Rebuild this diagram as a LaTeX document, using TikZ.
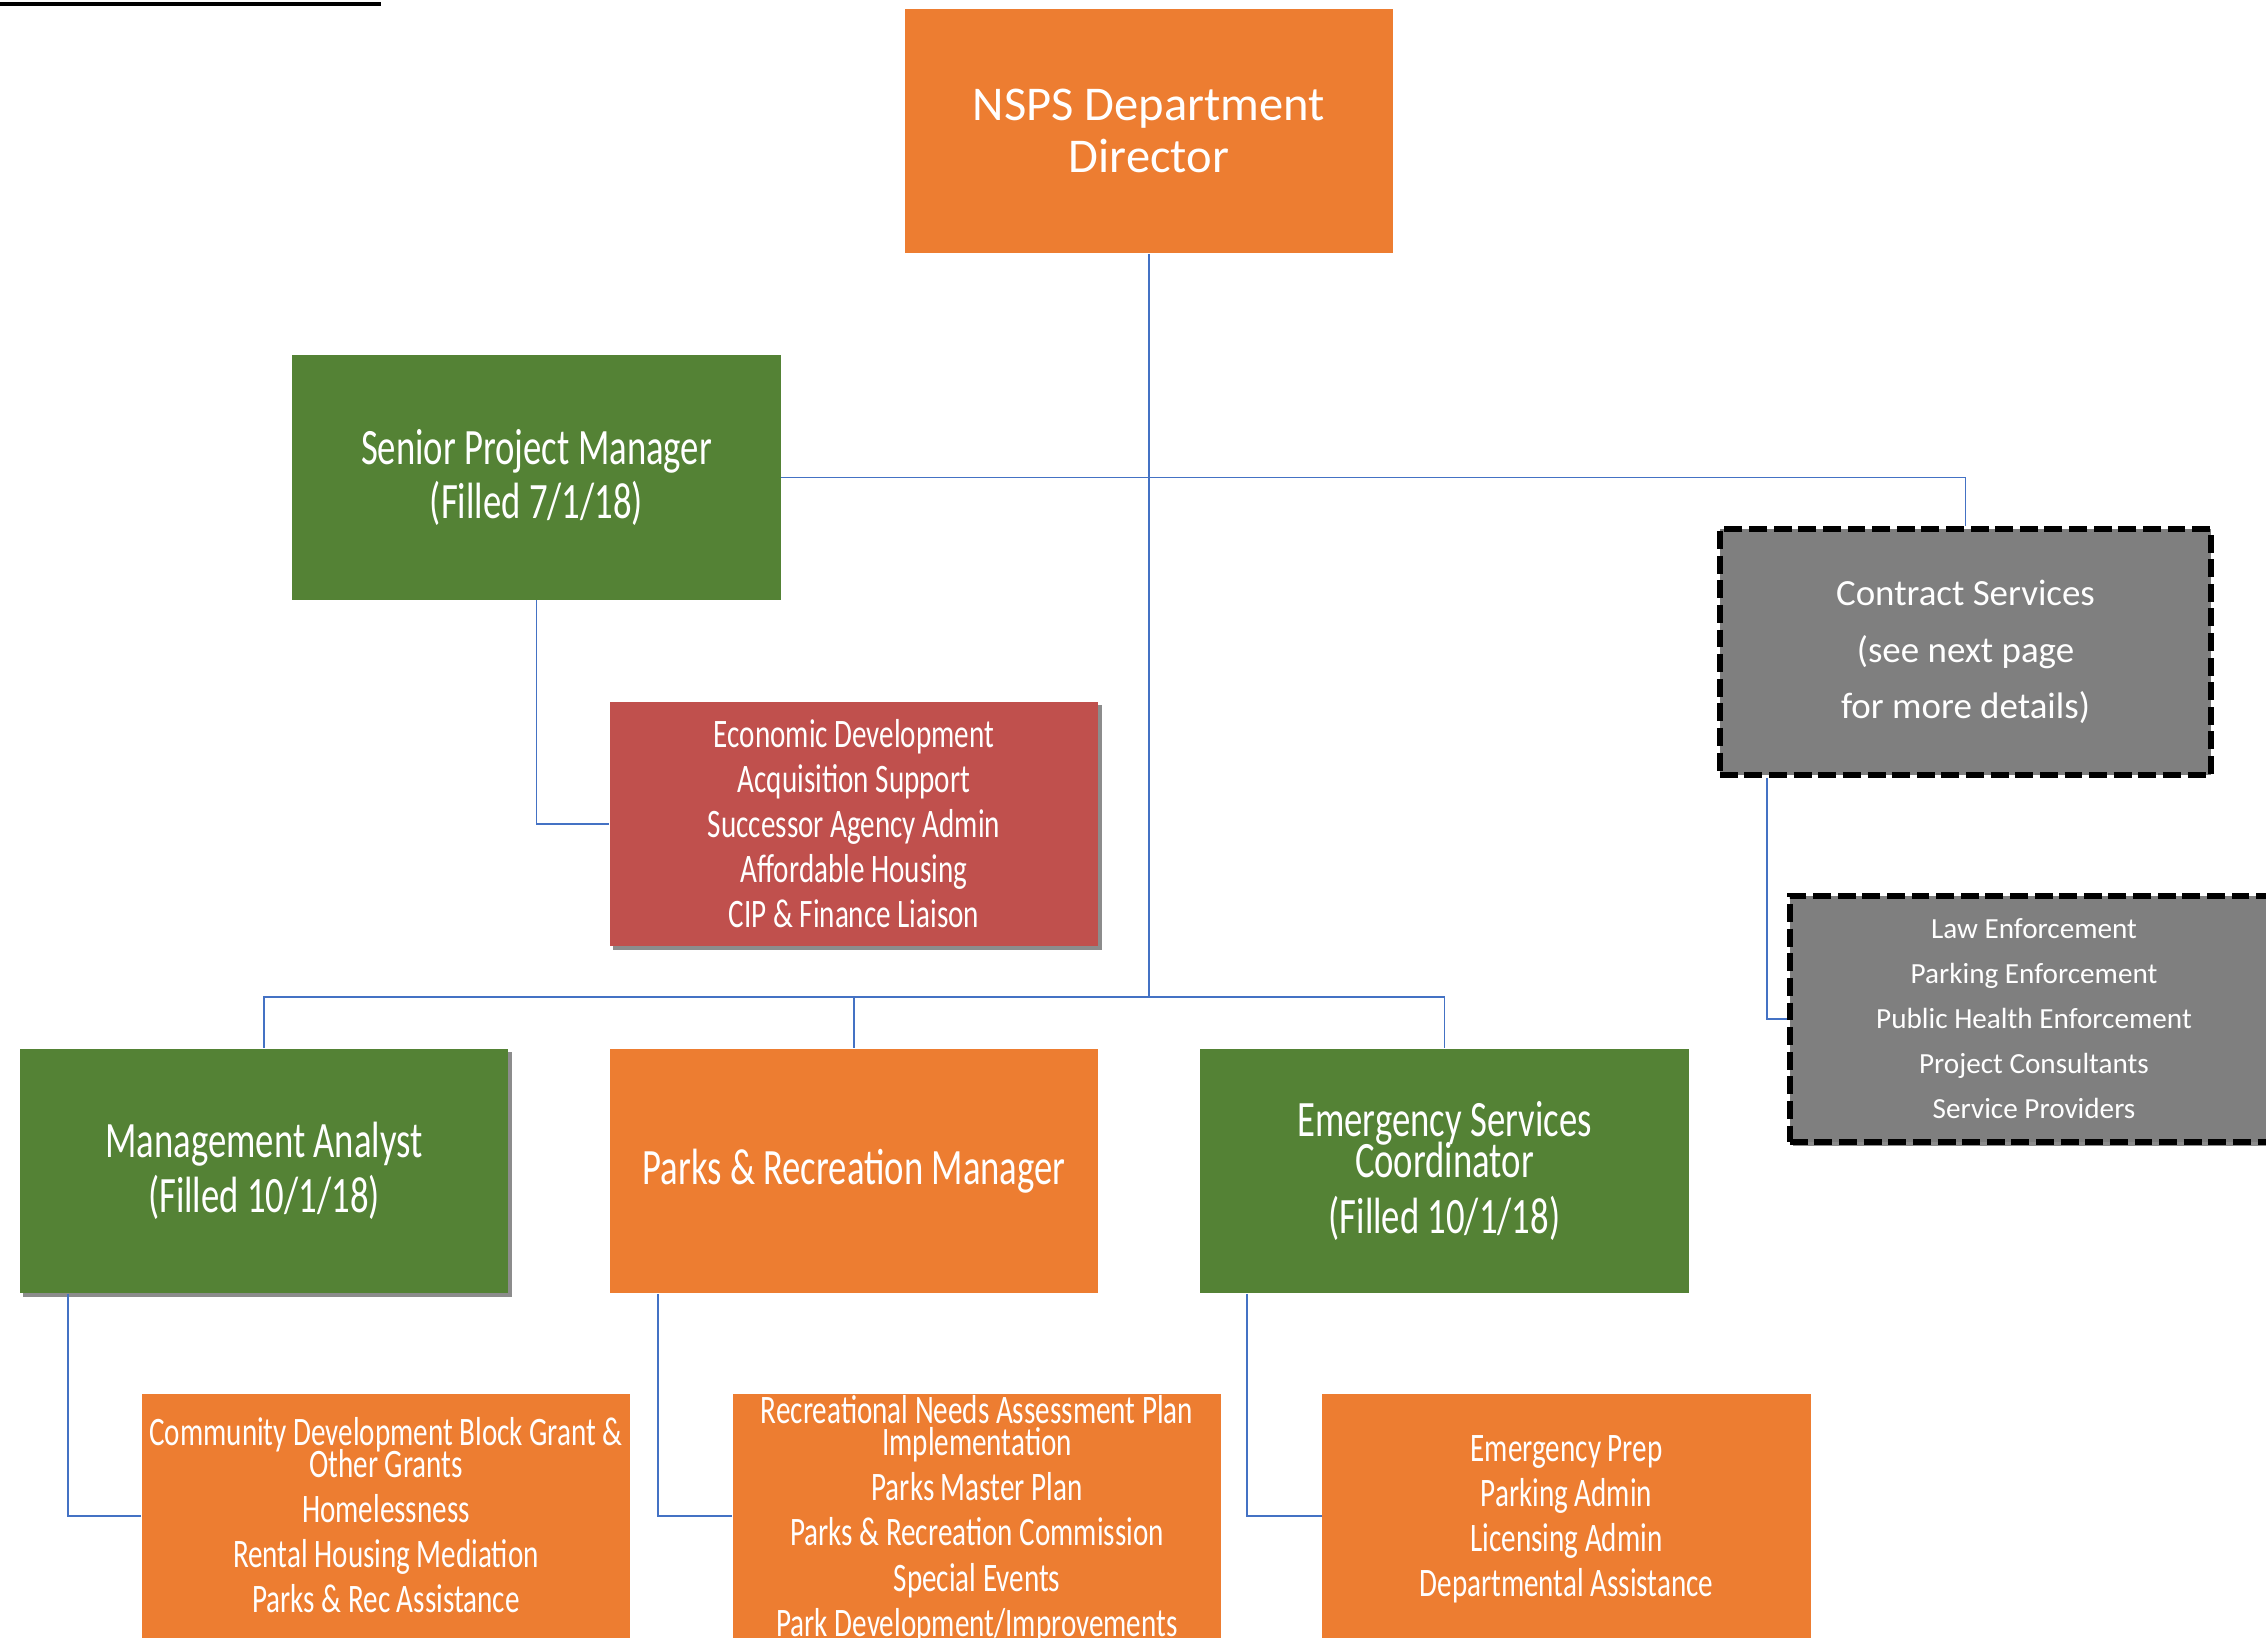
\documentclass[tikz,border=0pt]{standalone}
\usepackage{fontspec}
\setmainfont{Carlito}
\newfontfamily\cond[FakeStretch=0.72]{Carlito}
\newcommand\tightls{\lineskiplimit -30pt\relax}
\usetikzlibrary{shadows}
\definecolor{orgC}{HTML}{ED7D31}
\definecolor{grnC}{HTML}{548235}
\definecolor{redC}{HTML}{C0504D}
\definecolor{gryC}{HTML}{7F7F7F}
\definecolor{lnC}{HTML}{4472C4}
\tikzset{
  box/.style={rectangle, inner sep=0pt, minimum width=4.88cm, minimum height=2.44cm, text=white, align=center},
  orgbox/.style={box, fill=orgC},
  grnbox/.style={box, fill=grnC},
  redbox/.style={box, fill=redC},
  grybox/.style={box, fill=gryC, draw=black, line width=1.7pt, dash pattern=on 5.1pt off 1.9pt},
  shd/.style={drop shadow={shadow xshift=0.035cm, shadow yshift=-0.035cm, opacity=0.45, fill=black}},
  link/.style={draw=lnC, line width=0.55pt},
  txt/.style={inner sep=0pt, text=white, align=center},
  bigf/.style={font=\cond\fontsize{14.5}{15.6}\selectfont\tightls},
  smallf/.style={font=\cond\fontsize{11.5}{12.8}\selectfont\tightls},
  wrapf/.style={font=\cond\fontsize{11.5}{9.2}\selectfont\tightls},
  escf/.style={font=\cond\fontsize{14.5}{11.5}\selectfont\tightls},
}
\begin{document}
\begin{tikzpicture}[x=0.01cm, y=-0.01cm]
\useasboundingbox (0,0) rectangle (2266,1638);
\clip (0,0) rectangle (2266,1638);
% top-left rule
\draw[line width=1.2pt, black] (0,4) -- (381,4);

% nodes
\node[orgbox, font=\fontsize{13.8}{14.8}\selectfont] (dir) at (1149,131) {NSPS Department\\Director};
\node[grnbox, bigf] (spm) at (536.5,477.5) {Senior Project Manager\\(Filled 7/1/18)};
\node[redbox, smallf, shd] (red) at (854,824) {Economic Development\\Acquisition Support\\Successor Agency Admin\\Affordable Housing\\CIP \& Finance Liaison};
\node[grybox, minimum width=4.91cm, minimum height=2.46cm, font=\fontsize{10.5}{16}\selectfont] (con) at (1965.5,652) {Contract Services\\(see next page\\for more details)};
\node[grybox, shd, minimum height=2.46cm, font=\fontsize{8.3}{12.8}\selectfont] (law) at (2034,1019) {Law Enforcement\\Parking Enforcement\\Public Health Enforcement\\Project Consultants\\Service Providers};

\node[grnbox, bigf, shd] (ma) at (264,1171) {Management Analyst\\(Filled 10/1/18)};
\node[orgbox, bigf] (pm) at (854,1171) {Parks \& Recreation Manager};
\node[grnbox, escf] (esc) at (1444.5,1171) {Emergency Services\\Coordinator\\[4.5pt](Filled 10/1/18)};

\node[orgbox] (cdbg) at (386,1516) {};
\node[txt, wrapf] (cdbgt) at (386,1515) {Community Development Block Grant \&\\Other Grants\\[3.6pt]Homelessness\\[3.6pt]Rental Housing Mediation\\[3.6pt]Parks \& Rec Assistance};
\node[orgbox] (rn) at (977,1516) {};
\node[txt, wrapf] (rnt) at (977,1519) {Recreational Needs Assessment Plan\\Implementation\\[3.6pt]Parks Master Plan\\[3.6pt]Parks \& Recreation Commission\\[3.6pt]Special Events\\[3.6pt]Park Development/Improvements};
\node[orgbox] (ep) at (1566.5,1516) {};
\node[txt, smallf] (ept) at (1566.5,1519) {Emergency Prep\\Parking Admin\\Licensing Admin\\Departmental Assistance};

% connectors
\coordinate (busc) at (1149,997);
\path[link] (dir.south) -- (busc);
\path[link] (spm.east) -| (con.north);
\path[link] (spm.south) |- (red.west);
\path[link] (busc) -| (ma.north);
\path[link] (busc) -| (pm.north);
\path[link] (busc) -| (esc.north);
\path[link] ([xshift=0.49cm]ma.south west) |- (cdbg.west);
\path[link] ([xshift=0.49cm]pm.south west) |- (rn.west);
\path[link] ([xshift=0.47cm]esc.south west) |- (ep.west);
\path[link] ([xshift=0.5cm]con.south west) |- (law.west);
\end{tikzpicture}
\end{document}
